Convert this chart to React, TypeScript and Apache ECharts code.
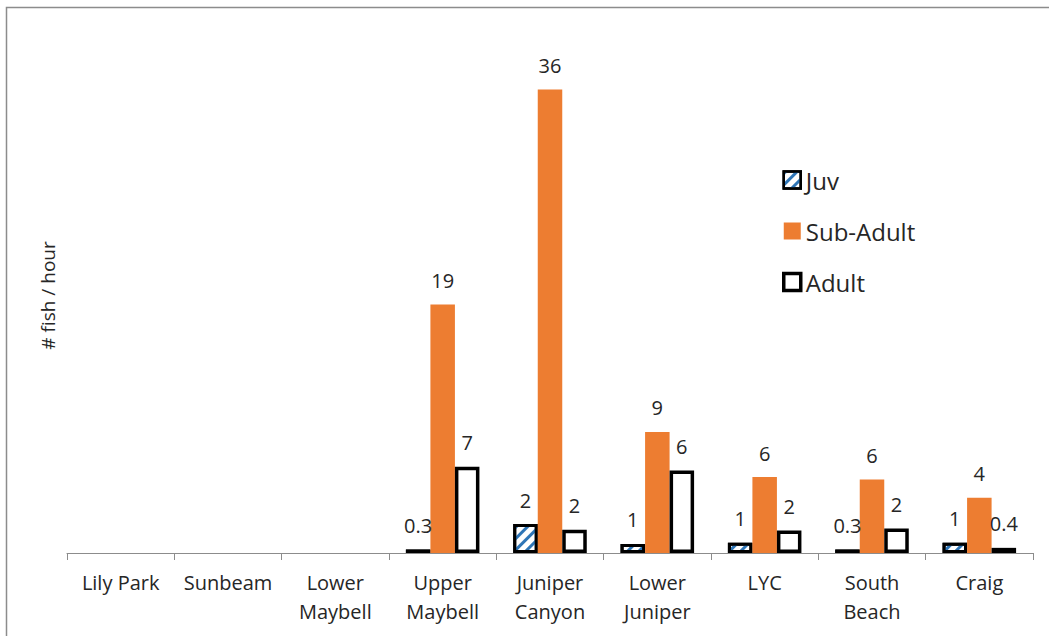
import React, { useEffect, useRef } from "react";
import * as echarts from "echarts";

const categories = [
  "Lily Park",
  "Sunbeam",
  "Lower\nMaybell",
  "Upper\nMaybell",
  "Juniper\nCanyon",
  "Lower\nJuniper",
  "LYC",
  "South\nBeach",
  "Craig",
];
const juv = [null, null, null, 0.27, 2.25, 0.7, 0.8, 0.27, 0.8];
const subAdult = [null, null, null, 19.3, 36, 9.4, 5.9, 5.7, 4.3];
const adult = [null, null, null, 6.7, 1.8, 6.4, 1.75, 1.9, 0.4];

const FONT = "Open Sans";
const TEXT = "#262626";
const ORANGE = "#ED7D31";
const BLUE = "#2E75B6";

const fmt = (p: any) => {
  const v = p.value;
  if (v === null || v === undefined) return "";
  return v < 0.5 ? v.toFixed(1) : String(Math.round(v));
};

const labelCfg = {
  show: true,
  position: "top" as const,
  distance: 14,
  fontFamily: FONT,
  fontSize: 20,
  color: TEXT,
  formatter: fmt,
};

const juvDecal = {
  symbol: "rect",
  symbolSize: 1,
  dashArrayX: [1, 0],
  dashArrayY: [3, 5],
  rotation: -Math.PI / 4,
  color: BLUE,
};

export default function App() {
  const ref = useRef<HTMLDivElement>(null);
  useEffect(() => {
    if (!ref.current) return;
    const chart = echarts.init(ref.current, undefined, { renderer: "svg" });
    chart.setOption({
      animation: false,
      backgroundColor: "#fff",
      graphic: [
        {
          type: "rect",
          shape: { x: 6.5, y: 7.5, width: 1100, height: 700 },
          style: { fill: "none", stroke: "#8c8c8c", lineWidth: 1.5 },
          silent: true,
        },
      ],
      grid: { left: 67, right: 16, top: 38, bottom: 83 },
      legend: {
        orient: "vertical",
        left: 777,
        top: 163,
        itemWidth: 17,
        itemHeight: 17,
        itemGap: 27,
        textStyle: { fontFamily: FONT, fontSize: 24, color: TEXT },
        data: [
          {
            name: "Juv",
            icon: "rect",
            itemStyle: { color: "#fff", borderColor: "#000", borderWidth: 2.5, decal: juvDecal },
          },
          { name: "Sub-Adult", icon: "rect", itemStyle: { color: ORANGE, borderWidth: 0 } },
          {
            name: "Adult",
            icon: "rect",
            itemStyle: { color: "#fff", borderColor: "#000", borderWidth: 3.5 },
          },
        ],
      },
      xAxis: {
        type: "category",
        data: categories,
        axisLine: { lineStyle: { color: "#8c8c8c", width: 1 } },
        axisTick: { show: true, length: 7, lineStyle: { color: "#8c8c8c" } },
        axisLabel: {
          fontFamily: FONT,
          fontSize: 20,
          color: TEXT,
          lineHeight: 29,
          margin: 15,
          interval: 0,
        },
      },
      yAxis: {
        type: "value",
        min: 0,
        max: 40,
        axisLine: { show: false },
        axisTick: { show: false },
        axisLabel: { show: false },
        splitLine: { show: false },
        name: "# fish / hour",
        nameLocation: "middle",
        nameGap: 10,
        nameTextStyle: { fontFamily: FONT, fontSize: 19, color: TEXT },
      },
      series: [
        {
          name: "Juv",
          type: "bar",
          data: juv,
          barGap: "0%",
          barCategoryGap: "31.5%",
          itemStyle: { color: "#fff", borderColor: "#000", borderWidth: 3, decal: juvDecal },
          label: labelCfg,
        },
        {
          name: "Sub-Adult",
          type: "bar",
          data: subAdult,
          barGap: "0%",
          barCategoryGap: "31.5%",
          itemStyle: { color: ORANGE },
          label: labelCfg,
        },
        {
          name: "Adult",
          type: "bar",
          data: adult,
          barGap: "0%",
          barCategoryGap: "31.5%",
          itemStyle: { color: "#fff", borderColor: "#000", borderWidth: 3.5 },
          label: labelCfg,
        },
      ],
    });
    return () => chart.dispose();
  }, []);
  return (
    <div
      ref={ref}
      style={{ position: "absolute", left: 0, top: 0, width: 1049, height: 636 }}
    />
  );
}
